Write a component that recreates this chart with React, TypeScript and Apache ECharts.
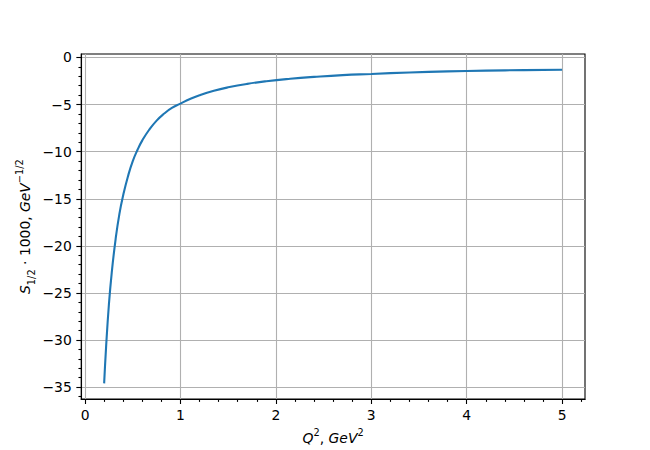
import React, { useEffect, useRef } from "react";
import * as echarts from "echarts";

// Q^2 values (GeV^2) and S_{1/2}*1000
const q2 = [0.2, 0.22, 0.25, 0.28, 0.32, 0.36, 0.4, 0.45, 0.5, 0.55, 0.6, 0.67, 0.75, 0.83, 0.91, 1.0, 1.1, 1.2, 1.35, 1.5, 1.7, 1.9, 2.15, 2.4, 2.7, 3.0, 3.4, 3.8, 4.2, 4.6, 5.0];
const s12 = [-34.6, -30.8, -26.2, -22.8, -19.3, -16.6, -14.6, -12.6, -11.0, -9.8, -8.8, -7.7, -6.7, -5.95, -5.35, -4.9, -4.4, -4.0, -3.53, -3.17, -2.8, -2.52, -2.26, -2.06, -1.87, -1.75, -1.59, -1.48, -1.4, -1.34, -1.3];

const xMajorTicks = [0, 1, 2, 3, 4, 5];
const xMinorTicks = [0.2, 0.4, 0.6, 0.8, 1.2, 1.4, 1.6, 1.8, 2.2, 2.4, 2.6, 2.8, 3.2, 3.4, 3.6, 3.8, 4.2, 4.4, 4.6, 4.8, 5.2];
const yMajorTicks = [-35, -30, -25, -20, -15, -10, -5, 0];
const yMinorTicks = [-36, -34, -33, -32, -31, -29, -28, -27, -26, -24, -23, -22, -21, -19, -18, -17, -16, -14, -13, -12, -11, -9, -8, -7, -6, -4, -3, -2, -1];
const xRange = [-0.04, 5.24];
const yRange = [-36.27, 0.37];

const FONT = "DejaVu Sans";
const FS = 13.9;
const SMALL = 9.8;

export default function App() {
  const ref = useRef<HTMLDivElement>(null);

  useEffect(() => {
    if (!ref.current) return;
    const chart = echarts.init(ref.current, undefined, { renderer: "svg" });
    const tickLine = { color: "#000", width: 1.1 };
    const gridLine = { color: "#b0b0b0", width: 1.1 };
    const base = { fontFamily: FONT, color: "#000" };
    const rich = {
      i: { ...base, fontSize: FS, fontStyle: "italic", lineHeight: 22 },
      n: { ...base, fontSize: FS, lineHeight: 22 },
      sup: { ...base, fontSize: SMALL, lineHeight: 11, verticalAlign: "top" },
      sub: { ...base, fontSize: SMALL, lineHeight: 11, verticalAlign: "bottom" },
    };
    chart.setOption({
      animation: false,
      backgroundColor: "#fff",
      grid: {
        left: 81.25,
        top: 54,
        width: 503.75,
        height: 346.5,
        show: true,
        borderColor: "#000",
        borderWidth: 1.1,
        backgroundColor: "transparent",
        containLabel: false,
      },
      xAxis: [
        {
          type: "value",
          min: xRange[0],
          max: xRange[1],
          position: "bottom",
          name: "{i|Q}{sup|2}{n|, }{i|GeV}{sup|2}",
          nameLocation: "middle",
          nameGap: 25,
          nameTextStyle: { ...base, fontSize: FS, rich },
          axisLine: { show: true, onZero: false, lineStyle: tickLine },
          axisTick: { show: true, length: 4.9, customValues: xMajorTicks, lineStyle: tickLine },
          axisLabel: {
            show: true,
            margin: 9,
            customValues: xMajorTicks,
            fontFamily: FONT,
            fontSize: FS,
            color: "#000",
            formatter: (v: number) => String(v),
          },
          splitLine: { show: true, lineStyle: gridLine },
        },
        {
          type: "value",
          min: xRange[0],
          max: xRange[1],
          position: "bottom",
          axisLine: { show: false, onZero: false },
          axisTick: { show: true, length: 2.8, customValues: xMinorTicks, lineStyle: tickLine },
          axisLabel: { show: false },
          splitLine: { show: false },
        },
      ],
      yAxis: [
        {
          type: "value",
          min: yRange[0],
          max: yRange[1],
          position: "left",
          name: "{i|S}{sub|1/2}{n| · 1000, }{i|GeV}{sup|\u22121/2}",
          nameLocation: "middle",
          nameRotate: 90,
          nameGap: 45,
          nameMoveOverlap: false,
          nameTextStyle: { ...base, fontSize: FS, rich },
          axisLine: { show: true, onZero: false, lineStyle: tickLine },
          axisTick: { show: true, length: 4.9, customValues: yMajorTicks, lineStyle: tickLine },
          axisLabel: {
            show: true,
            margin: 9.5,
            customValues: yMajorTicks,
            fontFamily: FONT,
            fontSize: FS,
            color: "#000",
            formatter: (v: number) => String(v).replace("-", "\u2212"),
          },
          splitLine: { show: true, lineStyle: gridLine },
        },
        {
          type: "value",
          min: yRange[0],
          max: yRange[1],
          position: "left",
          axisLine: { show: false, onZero: false },
          axisTick: { show: true, length: 2.8, customValues: yMinorTicks, lineStyle: tickLine },
          axisLabel: { show: false },
          splitLine: { show: false },
        },
      ],
      series: [
        {
          type: "line",
          xAxisIndex: 0,
          yAxisIndex: 0,
          data: q2.map((x, i) => [x, s12[i]]),
          showSymbol: false,
          symbol: "none",
          smooth: 0.5,
          lineStyle: { color: "#1f77b4", width: 2.1 },
          z: 5,
        },
      ],
    });
    return () => chart.dispose();
  }, []);

  return (
    <div
      ref={ref}
      style={{ position: "fixed", left: 0, top: 0, width: 650, height: 450, background: "#fff" }}
    />
  );
}
